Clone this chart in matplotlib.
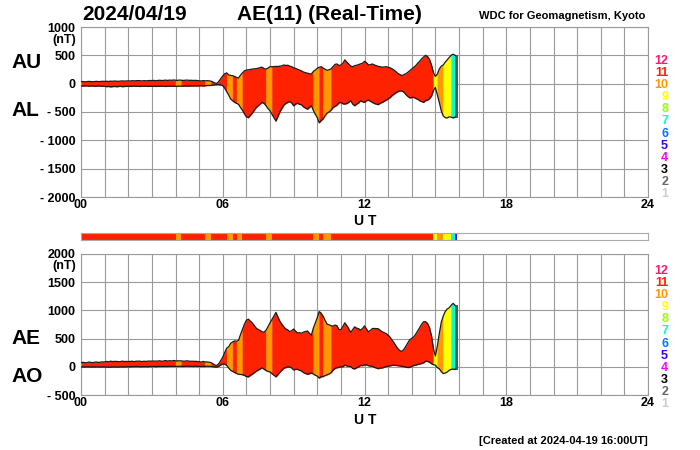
import numpy as np
import matplotlib.pyplot as plt

plt.rcParams['font.family'] = ['Liberation Sans', 'DejaVu Sans']

# AU / AL (nT), 5-minute values from 00:00 to 15:55 UT, one row per hour
au = [35, 38, 33, 36, 40, 37, 34, 38, 41, 36, 39, 42,
      40, 43, 38, 45, 42, 47, 44, 41, 46, 49, 45, 48,
      50, 47, 53, 49, 52, 55, 51, 48, 54, 50, 53, 56,
      54, 58, 52, 57, 60, 55, 59, 62, 57, 63, 60, 65,
      62, 58, 64, 60, 57, 61, 63, 58, 60, 56, 59, 55,
      52, 48, 55, 50, 53, 50, 45, 30, 12, 5, 40, 90,
      135, 175, 190, 155, 145, 140, 128, 110, 100, 150, 190, 225,
      240, 245, 250, 258, 262, 265, 272, 285, 290, 265, 258, 275,
      300, 298, 302, 305, 303, 310, 315, 330, 322, 325, 310, 300,
      280, 270, 255, 240, 225, 205, 195, 185, 175, 170, 215, 240,
      270, 290, 300, 275, 255, 235, 245, 260, 300, 340, 348, 320,
      330, 360, 420, 380, 345, 310, 300, 318, 325, 336, 350, 360,
      395, 370, 330, 335, 348, 330, 318, 305, 300, 290, 295, 300,
      290, 280, 262, 240, 210, 180, 160, 142, 160, 175, 200, 230,
      260, 290, 318, 360, 395, 437, 470, 500, 480, 430, 330, 200,
      125, 170, 260, 310, 330, 380, 420, 460, 500, 520, 500, 490]
al = [-38, -42, -40, -37, -44, -41, -39, -45, -43, -40, -46, -44,
      -47, -52, -49, -55, -51, -48, -53, -50, -46, -52, -49, -47,
      -44, -48, -46, -42, -47, -45, -49, -43, -46, -44, -48, -45,
      -46, -43, -48, -44, -47, -42, -45, -49, -44, -46, -43, -47,
      -44, -47, -42, -45, -43, -40, -44, -41, -39, -42, -38, -40,
      -38, -35, -40, -36, -33, -32, -30, -25, -20, -18, -18, -22,
      -35, -80, -140, -200, -270, -300, -330, -345, -365, -420, -470, -530,
      -585, -600, -560, -520, -470, -420, -390, -360, -330, -350, -390, -440,
      -480, -540, -600, -660, -580, -500, -440, -380, -350, -330, -315, -340,
      -390, -360, -345, -365, -370, -410, -430, -450, -420, -390, -470, -540,
      -600, -690, -650, -620, -565, -520, -500, -470, -420, -400, -380, -340,
      -330, -355, -360, -350, -330, -300, -360, -390, -360, -340, -300, -320,
      -330, -300, -290, -310, -330, -350, -360, -370, -345, -330, -310, -290,
      -270, -245, -210, -185, -160, -140, -126, -130, -150, -190, -225, -250,
      -245, -240, -260, -275, -300, -315, -330, -300, -290, -265, -220, -124,
      -65, -200, -330, -480, -570, -600, -605, -585, -590, -605, -590, -580]

# number of stations used, as runs: start minute of each run and its count
run_start = [0, 240, 255, 315, 330, 370, 385, 395, 410, 470, 485, 590, 605,
             615, 635, 895, 905, 920, 940, 950]
run_count = [11, 10, 11, 10, 11, 10, 11, 10, 11, 10, 11, 10, 11,
             10, 11, 9, 10, 9, 7, 5]

count_labels = [12, 11, 10, 9, 8, 7, 6, 5, 4, 3, 2, 1]
count_colors = ['#ff1a70', '#ff2200', '#ff9900', '#ffff00', '#99ff00', '#00ffcc',
                '#0077ff', '#3300ff', '#ff00ff', '#000000', '#666666', '#cccccc']
col = dict(zip(count_labels, count_colors))

au = np.array(au, float)
al = np.array(al, float)
ae = au - al
ao = (au + al) / 2
t = np.arange(len(au)) * 5 / 60.0

W, H = 700, 450
fig = plt.figure(figsize=(7, 4.5), dpi=100)


def px_axes(x0, y0, x1, y1):
    return fig.add_axes([x0 / W, 1 - y1 / H, (x1 - x0) / W, (y1 - y0) / H])


def runs():
    for k, s in enumerate(run_start):
        i0 = s // 5
        i1 = run_start[k + 1] // 5 if k + 1 < len(run_start) else len(t) - 1
        yield i0, i1, col[run_count[k]]


def panel(ax, upper, lower, lo, hi, ylabels):
    for i0, i1, c in runs():
        ax.fill_between(t[i0:i1 + 1], lower[i0:i1 + 1], upper[i0:i1 + 1],
                        color=c, ec=c, lw=0.3, zorder=2)
    ax.plot(t, upper, color='#1a1a1a', lw=0.9, zorder=3)
    ax.plot(t, lower, color='#1a1a1a', lw=0.9, zorder=3)
    ax.plot([t[-1], t[-1]], [lower[-1], upper[-1]], color='#555555', lw=1.4, zorder=3)
    ax.set_xlim(0, 24)
    ax.set_ylim(lo, hi)
    ax.set_xticks(range(25))
    ax.set_xticklabels(['%02d' % h if h % 6 == 0 else '' for h in range(25)],
                       fontsize=9, fontweight='bold')
    yt = np.arange(lo, hi + 1, 500)
    ax.set_yticks(yt)
    ax.set_yticklabels(ylabels, fontsize=9, fontweight='bold')
    ax.tick_params(axis='x', length=0, pad=1.5)
    ax.tick_params(axis='y', length=0, pad=4)
    ax.grid(True, color='#9a9a9a', lw=0.8)
    ax.set_axisbelow(True)
    for sp in ax.spines.values():
        sp.set_color('#9a9a9a')
        sp.set_linewidth(0.8)


ax1 = px_axes(81, 27, 648, 197)
panel(ax1, au, al, -2000, 1000,
      ['- 2000', '- 1500', '- 1000', '- 500', '0', '500', '1000'])

ax2 = px_axes(81, 254, 648, 395)
panel(ax2, ae, ao, -500, 2000,
      ['- 500', '0', '500', '1000', '1500', '2000'])

# station-count strip
axs = px_axes(81, 233, 648, 240)
for i0, i1, c in runs():
    axs.axvspan(t[i0], t[i1], color=c, lw=0)
axs.set_xlim(0, 24)
axs.set_ylim(0, 1)
axs.set_xticks([])
axs.set_yticks([])
for sp in axs.spines.values():
    sp.set_color('#aaaaaa')
    sp.set_linewidth(0.8)


def ftext(x, y, s, **kw):
    fig.text(x / W, 1 - y / H, s, **kw)


ftext(82, 14, '2024/04/19', fontsize=15, fontweight='bold', va='center')
ftext(237, 14, 'AE(11) (Real-Time)', fontsize=15, fontweight='bold', va='center')
ftext(645, 16, 'WDC for Geomagnetism, Kyoto', fontsize=8, fontweight='bold',
      ha='right', va='center')

ftext(76, 39.5, '(nT)', fontsize=9, fontweight='bold', ha='right', va='center')
ftext(76, 266, '(nT)', fontsize=9, fontweight='bold', ha='right', va='center')

for lab, y in [('AU', 62.5), ('AL', 111), ('AE', 338), ('AO', 377)]:
    ftext(11, y, lab, fontsize=15, fontweight='bold', va='center')

ftext(365, 221, 'U T', fontsize=10, fontweight='bold', ha='center', va='center')
ftext(365, 420, 'U T', fontsize=10, fontweight='bold', ha='center', va='center')

for y0 in (61, 271):
    for k, (lab, c) in enumerate(zip(count_labels, count_colors)):
        ftext(668, y0 + 12.1 * k, str(lab), color=c, fontsize=9,
              fontweight='bold', ha='right', va='center')

ftext(648, 440.5, '[Created at 2024-04-19 16:00UT]', fontsize=8,
      fontweight='bold', ha='right', va='center')

fig.savefig('out.png', dpi=100)
